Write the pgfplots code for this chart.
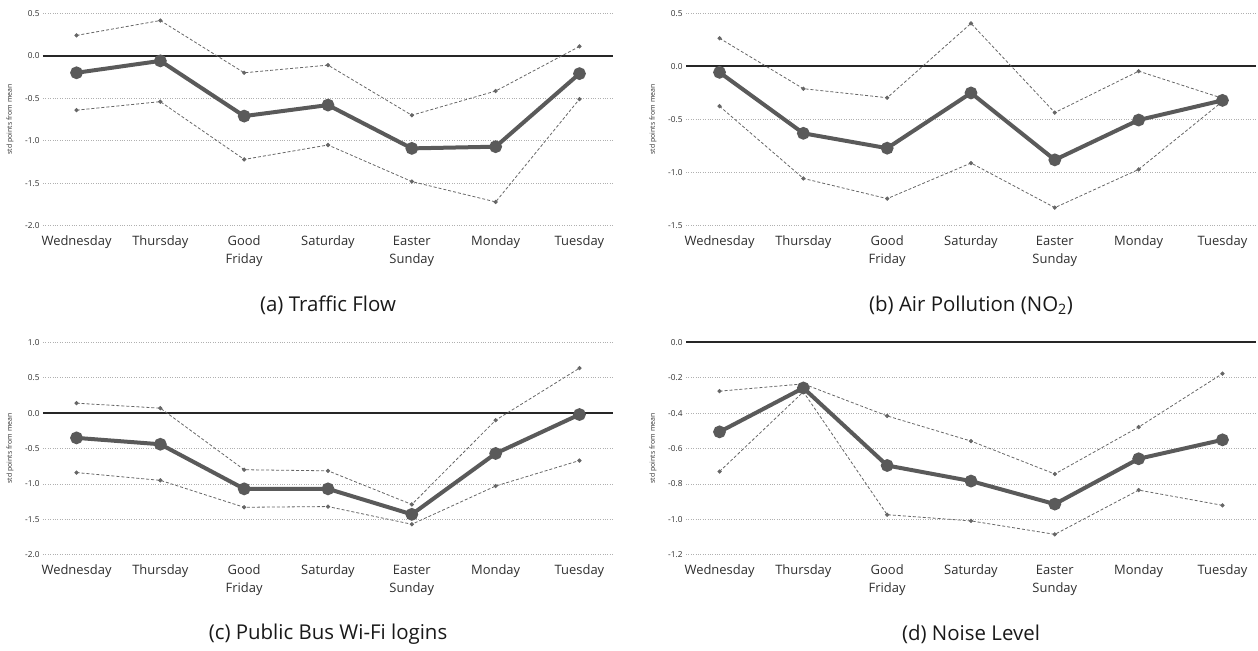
\documentclass[border=0pt]{standalone}
\usepackage{fontspec}
\setmainfont{Open Sans}
\usepackage{pgfplots}
\pgfplotsset{compat=1.18}

\definecolor{mainln}{HTML}{5A5A5A}
\definecolor{bandln}{HTML}{666666}
\definecolor{gridln}{HTML}{B0B0B0}
\definecolor{txt}{HTML}{2E2E2E}

\pgfplotsset{
  panel/.style={
    scale only axis, width=570bp, height=212.4bp,
    xmin=-0.4, xmax=6.4,
    axis line style={draw=none},
    tick style={draw=none},
    ymajorgrids, grid style={gridln, dotted, line width=0.6bp},
    xtick={0,...,6},
    xticklabels={\strut Wednesday,\strut Thursday,{\strut Good\\Friday},\strut Saturday,
      {\strut Easter\\Sunday},\strut Monday,\strut Tuesday},
    xticklabel style={align=center, font=\fontsize{13}{18}\selectfont, text=txt, yshift=-4bp},
    yticklabel style={font=\fontsize{8.3}{9}\selectfont, text=txt,
      /pgf/number format/.cd, fixed, fixed zerofill, precision=1, assume math mode=true},
    ylabel={std points from mean},
    ylabel style={at={(axis description cs:-0.058,0.5)}, anchor=center,
      font=\fontsize{7}{8}\selectfont, text=txt},
    xlabel style={at={(axis description cs:0.5,-0.375)}, anchor=center,
      font=\fontsize{20.5}{24}\selectfont, text=black!90},
    clip=false,
  },
  zero/.style={black!85, line width=1.9bp, forget plot},
  band/.style={bandln, line width=0.8bp, dash pattern=on 3bp off 2bp,
    mark=*, mark size=1.7bp, mark options={solid}},
  mean/.style={mainln, line width=4bp, mark=*, mark size=4.3bp},
}

\begin{document}
\begin{tikzpicture}
\useasboundingbox (0,0) rectangle (1258bp,-651bp);

% (a) traffic
\begin{axis}[panel, at={(43bp,-13.3bp)}, anchor=north west,
  ymin=-2, ymax=0.5, ytick={-2,-1.5,-1,-0.5,0,0.5},
  xlabel={(a) Traffic Flow}]
\addplot[zero] coordinates {(-0.4,0) (6.4,0)};
\addplot[band] coordinates {(0,0.24) (1,0.415) (2,-0.20) (3,-0.11) (4,-0.70) (5,-0.415) (6,0.11)};
\addplot[band] coordinates {(0,-0.64) (1,-0.54) (2,-1.22) (3,-1.05) (4,-1.48) (5,-1.72) (6,-0.51)};
\addplot[mean] coordinates {(0,-0.20) (1,-0.06) (2,-0.71) (3,-0.58) (4,-1.09) (5,-1.07) (6,-0.21)};
\end{axis}

% (b) NO2
\begin{axis}[panel, at={(686bp,-13.3bp)}, anchor=north west,
  ymin=-1.5, ymax=0.5, ytick={-1.5,-1,-0.5,0,0.5},
  xlabel={(b) Air Pollution (NO\textsubscript{2})}]
\addplot[zero] coordinates {(-0.4,0) (6.4,0)};
\addplot[band] coordinates {(0,0.265) (1,-0.21) (2,-0.295) (3,0.405) (4,-0.435) (5,-0.045) (6,-0.30)};
\addplot[band] coordinates {(0,-0.375) (1,-1.055) (2,-1.245) (3,-0.91) (4,-1.33) (5,-0.97) (6,-0.33)};
\addplot[mean] coordinates {(0,-0.056) (1,-0.63) (2,-0.77) (3,-0.25) (4,-0.88) (5,-0.505) (6,-0.32)};
\end{axis}

% (c) wifi
\begin{axis}[panel, at={(43bp,-342.3bp)}, anchor=north west,
  ymin=-2, ymax=1, ytick={-2,-1.5,-1,-0.5,0,0.5,1},
  xlabel={(c) Public Bus Wi-Fi logins}]
\addplot[zero] coordinates {(-0.4,0) (6.4,0)};
\addplot[band] coordinates {(0,0.14) (1,0.07) (2,-0.80) (3,-0.815) (4,-1.29) (5,-0.10) (6,0.635)};
\addplot[band] coordinates {(0,-0.84) (1,-0.95) (2,-1.33) (3,-1.32) (4,-1.57) (5,-1.03) (6,-0.67)};
\addplot[mean] coordinates {(0,-0.35) (1,-0.44) (2,-1.07) (3,-1.07) (4,-1.43) (5,-0.57) (6,-0.02)};
\end{axis}

% (d) noise
\begin{axis}[panel, at={(686bp,-342.3bp)}, anchor=north west,
  ymin=-1.2, ymax=0, ytick={-1.2,-1.0,-0.8,-0.6,-0.4,-0.2,0},
  xlabel={(d) Noise Level}]
\addplot[zero] coordinates {(-0.4,0) (6.4,0)};
\addplot[band] coordinates {(0,-0.276) (1,-0.235) (2,-0.416) (3,-0.558) (4,-0.744) (5,-0.479) (6,-0.177)};
\addplot[band] coordinates {(0,-0.73) (1,-0.28) (2,-0.974) (3,-1.009) (4,-1.085) (5,-0.835) (6,-0.921)};
\addplot[mean] coordinates {(0,-0.506) (1,-0.258) (2,-0.696) (3,-0.784) (4,-0.914) (5,-0.658) (6,-0.551)};
\end{axis}
\end{tikzpicture}
\end{document}
